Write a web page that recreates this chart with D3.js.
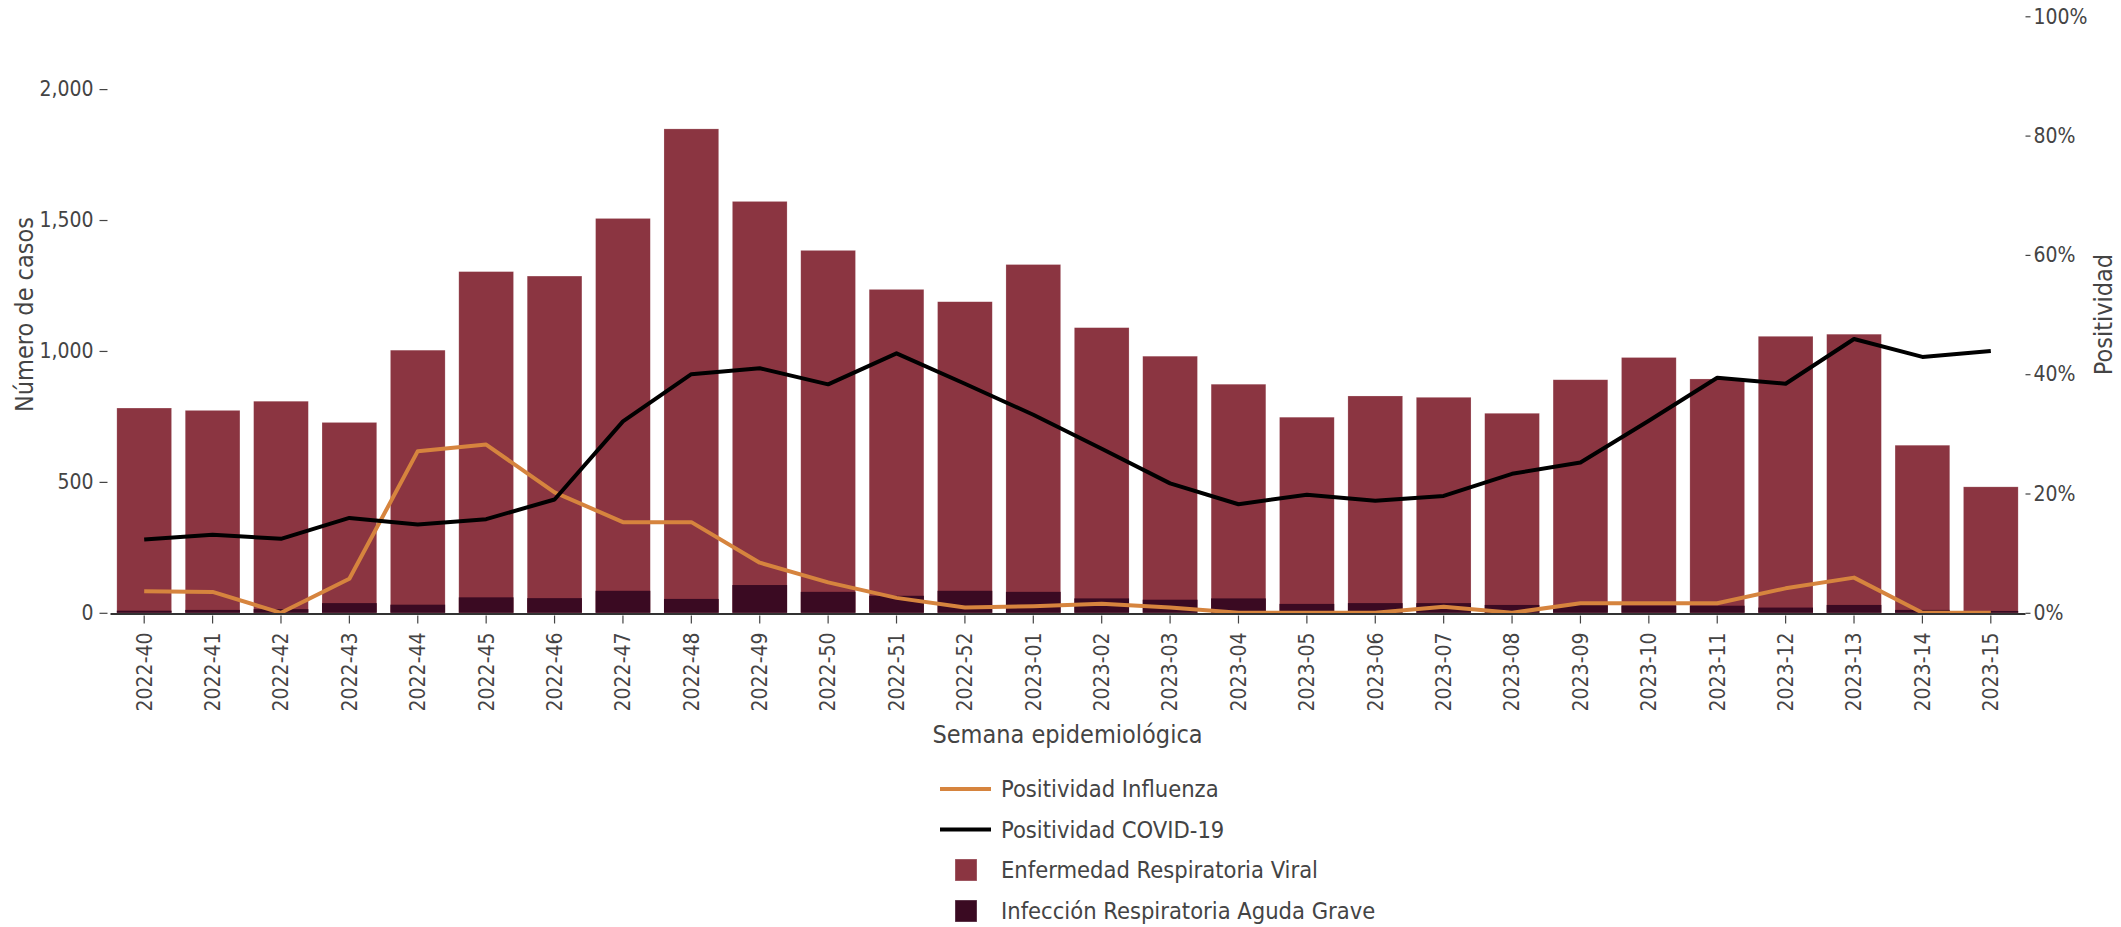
<!DOCTYPE html>
<html>
<head>
<meta charset="utf-8">
<script src="https://cdn.jsdelivr.net/npm/d3@7"></script>
<style>
  html, body { margin: 0; padding: 0; background: #fff; }
  svg { display: block; }
  text { font-family: "DejaVu Sans Condensed", "DejaVu Sans", sans-serif; font-stretch: condensed; fill: #444; }
</style>
</head>
<body>
<div id="chart"></div>
<script>
const weeks = ['2022-40','2022-41','2022-42','2022-43','2022-44','2022-45','2022-46','2022-47','2022-48','2022-49','2022-50','2022-51','2022-52',
  '2023-01','2023-02','2023-03','2023-04','2023-05','2023-06','2023-07','2023-08','2023-09','2023-10','2023-11','2023-12','2023-13','2023-14','2023-15'];
const erv = [782, 773, 808, 727, 1003, 1303, 1286, 1506, 1848, 1571, 1384, 1235, 1188,
  1330, 1089, 980, 873, 747, 828, 823, 762, 890, 975, 893, 1056, 1064, 640, 481];
const irag = [8, 11, 14, 37, 31, 59, 56, 84, 53, 106, 80, 65, 84,
  80, 55, 50, 55, 34, 37, 37, 30, 30, 28, 27, 20, 30, 11, 7];
const influenza = [3.6, 3.5, 0, 5.7, 27.1, 28.2, 20.2, 15.2, 15.2, 8.4, 5.1, 2.5, 0.9,
  1.1, 1.5, 0.9, 0, 0, 0, 1.0, 0, 1.6, 1.6, 1.6, 4.1, 5.9, 0, 0];
const covid = [12.3, 13.1, 12.4, 15.9, 14.8, 15.7, 19.0, 32.1, 40.0, 41.0, 38.3, 43.5, 38.4,
  33.2, 27.5, 21.7, 18.2, 19.8, 18.8, 19.6, 23.3, 25.2, 32.2, 39.4, 38.4, 45.9, 42.9, 43.9];
const leftTicks = [0, 500, 1000, 1500, 2000];
const rightTicks = [0, 0.2, 0.4, 0.6, 0.8, 1.0];
const seriesNames = ['Positividad Influenza', 'Positividad COVID-19', 'Enfermedad Respiratoria Viral', 'Infección Respiratoria Aguda Grave'];

const W = 2121, H = 927;
const colors = { erv: '#8B3541', irag: '#3A0A22', flu: '#D6843E', covid: '#000000' };
const plot = { left: 110, right: 2025, top: 16.3, bottom: 612.8 };

const svg = d3.select('#chart').append('svg').attr('width', W).attr('height', H);
svg.append('rect').attr('width', W).attr('height', H).attr('fill', '#fff');

const x = d3.scaleBand().domain(weeks).range([plot.left, plot.right]).paddingInner(0.2).paddingOuter(0.1);
const yL = d3.scaleLinear().domain([0, 2278]).range([plot.bottom, plot.top]);
const yR = d3.scaleLinear().domain([0, 1]).range([plot.bottom, plot.top]);

// bars
svg.append('g').selectAll('rect').data(weeks).join('rect')
  .attr('x', d => x(d)).attr('width', x.bandwidth())
  .attr('y', (d, i) => yL(erv[i])).attr('height', (d, i) => yL(0) - yL(erv[i]))
  .attr('fill', colors.erv).attr('stroke', 'rgba(255,255,255,0.35)').attr('stroke-width', 0.6);
svg.append('g').selectAll('rect').data(weeks).join('rect')
  .attr('x', d => x(d)).attr('width', x.bandwidth())
  .attr('y', (d, i) => yL(irag[i])).attr('height', (d, i) => yL(0) - yL(irag[i]))
  .attr('fill', colors.irag);

// lines
const cx = d => x(d) + x.bandwidth() / 2;
const line = arr => d3.line().x((d) => cx(d)).y((d, i) => yR(arr[i] / 100))(weeks);
svg.append('path').attr('d', line(influenza)).attr('fill', 'none').attr('stroke', colors.flu).attr('stroke-width', 4).attr('stroke-linejoin', 'round');
svg.append('path').attr('d', line(covid)).attr('fill', 'none').attr('stroke', colors.covid).attr('stroke-width', 4).attr('stroke-linejoin', 'round');

// left axis
const gL = svg.append('g').attr('transform', `translate(107.5,0)`)
  .call(d3.axisLeft(yL).tickValues(leftTicks).tickFormat(d3.format(',')).tickSize(8).tickPadding(6));
gL.select('.domain').remove();
gL.selectAll('line').attr('stroke', '#444').attr('stroke-width', 1.2);
gL.selectAll('text').style('font-size', '21px').attr('fill', '#444');

// right axis
const gR = svg.append('g').attr('transform', `translate(2025.5,0)`)
  .call(d3.axisRight(yR).tickValues(rightTicks).tickFormat(d3.format('.0%')).tickSize(5).tickPadding(3));
gR.select('.domain').remove();
gR.selectAll('line').attr('stroke', '#444').attr('stroke-width', 1.2);
gR.selectAll('text').style('font-size', '21px').attr('fill', '#444');

// bottom axis
const gB = svg.append('g').attr('transform', `translate(0,613.5)`)
  .call(d3.axisBottom(x).tickSize(10).tickSizeOuter(0).tickPadding(0));
gB.select('.domain').attr('stroke', '#333').attr('stroke-width', 1.8);
gB.selectAll('.tick line').attr('stroke', '#444').attr('stroke-width', 1.2).attr('y1', 2);
gB.selectAll('text').style('font-size', '21px').attr('fill', '#444')
  .attr('text-anchor', 'end').attr('transform', 'translate(0,19) rotate(-90)')
  .attr('x', 0).attr('y', 0).attr('dy', '0.35em');

// axis titles
svg.append('text').text('Número de casos')
  .attr('transform', `translate(24,${(plot.top + plot.bottom) / 2}) rotate(-90)`)
  .attr('text-anchor', 'middle').attr('dominant-baseline', 'central').style('font-size', '25px');
svg.append('text').text('Positividad')
  .attr('transform', `translate(2103,${(plot.top + plot.bottom) / 2}) rotate(-90)`)
  .attr('text-anchor', 'middle').attr('dominant-baseline', 'central').style('font-size', '25px');
svg.append('text').text('Semana epidemiológica')
  .attr('x', (plot.left + plot.right) / 2).attr('y', 743)
  .attr('text-anchor', 'middle').style('font-size', '25px');

// legend
const legY = [789, 829.5, 870, 911];
const lg = svg.append('g');
[0, 1].forEach(k => {
  lg.append('line').attr('x1', 940).attr('x2', 991).attr('y1', legY[k]).attr('y2', legY[k])
    .attr('stroke', k === 0 ? colors.flu : colors.covid).attr('stroke-width', 4);
});
[2, 3].forEach(k => {
  lg.append('rect').attr('x', 955).attr('y', legY[k] - 11).attr('width', 22).attr('height', 22)
    .attr('fill', k === 2 ? colors.erv : colors.irag).attr('stroke', 'rgba(255,255,255,0.35)');
});
seriesNames.forEach((n, k) => {
  lg.append('text').text(n).attr('x', 1001).attr('y', legY[k]).attr('dominant-baseline', 'central')
    .style('font-size', '23.5px');
});
</script>
</body>
</html>
